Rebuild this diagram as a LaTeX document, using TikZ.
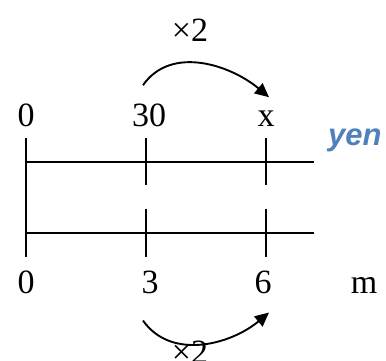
\documentclass[tikz,border=0pt]{standalone}
\usepackage{fontspec}
\setmainfont{Liberation Serif}
\newfontfamily\yenfont{Liberation Sans}
\usepackage{xcolor}
\usetikzlibrary{positioning, arrows.meta}
\definecolor{yenblue}{RGB}{79,129,189}

\begin{document}
\begin{tikzpicture}[
      x=1pt, y=1pt,
      every node/.style={inner sep=0pt, anchor=base, font=\fontsize{34}{40}\selectfont},
      unit/.style={anchor=base west, text=yenblue, font=\yenfont\bfseries\itshape\fontsize{31}{36}\selectfont},
      axis/.style={line width=1.9pt},
      jump/.style={-{Triangle[length=14pt,width=13pt]}, line width=1.9pt}
    ]
    \useasboundingbox (0,0) rectangle (386,360);

    % the two number lines
    \coordinate (topleft) at (26,198);
    \coordinate (topright) at (314,198);
    \coordinate (botleft) at (26,127);
    \coordinate (botright) at (314,127);
    \draw[axis] (topleft) -- (topright);
    \draw[axis] (botleft) -- (botright);
    \draw[axis] (26,222) -- (26,103);
    \foreach \xx in {146,266} {
      \draw[axis] (\xx,222) -- (\xx,175);
      \draw[axis] (\xx,151) -- (\xx,103);
    }

    % labels
    \node (zerotop) at (26,234) {0};
    \node (thirty) at (149,234) {30};
    \node (xval) at (266,234) {x};
    \node[unit] (yen) at (328,215) {yen};
    \node (zerobot) at (26,67) {0};
    \node (three) at (150,67) {3};
    \node (six) at (263,67) {6};
    \node (metre) at (364,67) {m};
    \node (timestop) at (190,319) {×2};
    \node (timesbot) at (190,-3) {×2};

    \draw[jump] ([xshift=-6pt,yshift=18pt]thirty.north) to[out=55,in=140] ([xshift=3pt,yshift=13pt]xval.north);
    \draw[jump] ([xshift=-7pt,yshift=-27pt]three.south) to[out=-55,in=-140] ([xshift=6pt,yshift=-19pt]six.south);
  \end{tikzpicture}
\end{document}
